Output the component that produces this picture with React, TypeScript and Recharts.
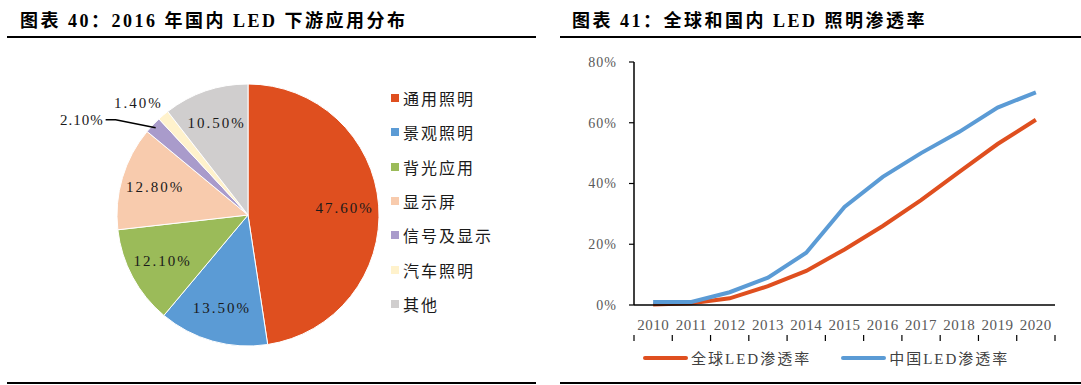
import React from "react";
import { PieChart, Pie, Cell, LineChart, Line, XAxis, YAxis, Legend } from "recharts";

// left: 2016 LED downstream application split
const segments = ["通用照明", "景观照明", "背光应用", "显示屏", "信号及显示", "汽车照明", "其他"];
const shares = [47.6, 13.5, 12.1, 12.8, 2.1, 1.4, 10.5];
const segColors = ["#DF4F1F", "#5B9BD5", "#9BBB59", "#F8CBAD", "#A99BCB", "#FFF2CC", "#D0CECE"];

// right: LED lighting penetration
const years = ["2010", "2011", "2012", "2013", "2014", "2015", "2016", "2017", "2018", "2019", "2020"];
const globalRate = [0.2, 0.6, 2.2, 6.2, 11.2, 18.3, 26, 34.5, 43.8, 53, 61];
const chinaRate = [1, 1, 4.2, 9, 17.2, 32.3, 42.2, 50, 57, 65, 70];
const yTicks = [0, 20, 40, 60, 80];
const edgeTicks = [0, 1, 2, 3, 4, 5, 6, 7, 8, 9, 10, 11];

const pieData = segments.map((name, i) => ({ name, value: shares[i] }));
const lineData = years.map((year, i) => ({ year, pos: i + 0.5, global: globalRate[i], china: chinaRate[i] }));

const FONT = "'Liberation Serif', 'Noto Sans CJK SC', serif";
const RADIAN = Math.PI / 180;

const fmt = (v: number) => v.toFixed(2) + "%";

// tick marks only, no labels (band edges)
const NoLabel = () => <g />;

function PieLabel(props: any) {
  const { cx, cy, midAngle, outerRadius, value, index } = props;
  const dx = Math.cos(-midAngle * RADIAN);
  const dy = Math.sin(-midAngle * RADIAN);
  const style = { fontFamily: FONT, fontSize: 15, letterSpacing: 2, fill: "#1a1a1a" };
  if (value >= 5) {
    const r = outerRadius * 0.74;
    return (
      <text x={cx + r * dx} y={cy + r * dy} textAnchor="middle" dominantBaseline="central" style={style}>
        {fmt(value)}
      </text>
    );
  }
  if (index === 4) {
    const x0 = cx + outerRadius * 0.97 * dx;
    const y0 = cy + outerRadius * 0.97 * dy;
    const x1 = x0 - 40;
    const y1 = y0 - 8;
    return (
      <g>
        <polyline points={`${x0},${y0} ${x1},${y1} ${x1 - 10},${y1}`} fill="none" stroke="#000" strokeWidth={1.5} />
        <text x={x1 - 12} y={y1} textAnchor="end" dominantBaseline="central" style={{ ...style, letterSpacing: 1 }}>
          {fmt(value)}
        </text>
      </g>
    );
  }
  const r = outerRadius * 1.2;
  return (
    <text x={cx + r * dx - 8} y={cy + r * dy + 8} textAnchor="middle" dominantBaseline="central" style={style}>
      {fmt(value)}
    </text>
  );
}

const PieLegend = () => (
  <div style={{ fontFamily: FONT }}>
    {segments.map((s, i) => (
      <div key={s} style={{ display: "flex", alignItems: "center", height: 34.3 }}>
        <span style={{ width: 8, height: 8, background: segColors[i], marginRight: 4 }} />
        <span style={{ fontSize: 16, letterSpacing: 2, color: "#1a1a1a" }}>{s}</span>
      </div>
    ))}
  </div>
);

const LineLegend = () => (
  <div style={{ display: "flex", fontFamily: FONT, fontSize: 15, letterSpacing: 2, color: "#404040" }}>
    {[
      { name: "全球LED渗透率", color: "#DF4F1F" },
      { name: "中国LED渗透率", color: "#5B9BD5" },
    ].map((it, i) => (
      <div key={it.name} style={{ display: "flex", alignItems: "center", marginRight: i === 0 ? 30 : 0 }}>
        <span style={{ width: 45, height: 4, borderRadius: 2, background: it.color, marginRight: 3 }} />
        <span>{it.name}</span>
      </div>
    ))}
  </div>
);

const titleStyle: React.CSSProperties = {
  position: "absolute",
  top: 6,
  fontFamily: FONT,
  fontWeight: "bold",
  fontSize: 18,
  letterSpacing: 2.5,
  color: "#000",
  whiteSpace: "nowrap",
};

const rule = (left: number, width: number, top: number): React.CSSProperties => ({
  position: "absolute",
  left,
  width,
  top,
  height: 2,
  background: "#000",
});

export default function App() {
  return (
    <div style={{ position: "absolute", left: 0, top: 0, width: 1081, height: 385, background: "#fff", overflow: "hidden" }}>
      <div style={{ ...titleStyle, left: 20 }}>图表 40：2016 年国内 LED 下游应用分布</div>
      <div style={{ ...titleStyle, left: 572 }}>图表 41：全球和国内 LED 照明渗透率</div>
      <div style={rule(7, 529, 36)} />
      <div style={rule(560, 521, 36)} />
      <div style={rule(7, 529, 382)} />
      <div style={rule(560, 521, 382)} />

      <div style={{ position: "absolute", left: 0, top: 40 }}>
        <PieChart width={540} height={320} margin={{ top: 0, right: 0, bottom: 0, left: 0 }}>
          <Pie
            data={pieData}
            dataKey="value"
            nameKey="name"
            cx={248}
            cy={175}
            outerRadius={131}
            startAngle={90}
            endAngle={-270}
            stroke="#fff"
            strokeWidth={1}
            label={PieLabel}
            labelLine={false}
            isAnimationActive={false}
          >
            {pieData.map((d, i) => (
              <Cell key={d.name} fill={segColors[i]} />
            ))}
          </Pie>
          <Legend
            layout="horizontal"
            verticalAlign="middle"
            content={PieLegend}
            wrapperStyle={{ left: 391, top: 41, width: 140, height: 250 }}
          />
        </PieChart>
      </div>

      <div style={{ position: "absolute", left: 560, top: 45 }}>
        <LineChart width={521} height={330} data={lineData} margin={{ top: 17, right: 26, left: 0, bottom: 39 }}>
          <XAxis
            xAxisId="edges"
            dataKey="pos"
            type="number"
            domain={[0, 11]}
            ticks={edgeTicks}
            interval={0}
            allowDataOverflow
            height={1}
            axisLine={false}
            tickLine={{ stroke: "#000", strokeWidth: 1.2 }}
            tickSize={6}
            tick={NoLabel}
          />
          <XAxis
            dataKey="year"
            scale="band"
            height={30}
            axisLine={{ stroke: "#000", strokeWidth: 1.5 }}
            tickLine={false}
            tickMargin={8}
            tick={{ fontFamily: FONT, fontSize: 15, letterSpacing: 0.5, fill: "#595959" }}
            interval={0}
          />
          <YAxis
            width={74}
            domain={[0, 80]}
            ticks={yTicks}
            tickFormatter={(v: number) => v + "%"}
            axisLine={{ stroke: "#000", strokeWidth: 1.5 }}
            tickLine={{ stroke: "#000", strokeWidth: 1.2 }}
            tickSize={5}
            tickMargin={12}
            tick={{ fontFamily: FONT, fontSize: 14, letterSpacing: 1, fill: "#595959" }}
          />
          <Line dataKey="global" stroke="#DF4F1F" strokeWidth={4} dot={false} isAnimationActive={false} />
          <Line dataKey="china" stroke="#5B9BD5" strokeWidth={4} dot={false} isAnimationActive={false} />
          <Legend
            layout="horizontal"
            verticalAlign="middle"
            content={LineLegend}
            wrapperStyle={{ left: 83, top: 302, width: 420, height: 22 }}
          />
        </LineChart>
      </div>
    </div>
  );
}
